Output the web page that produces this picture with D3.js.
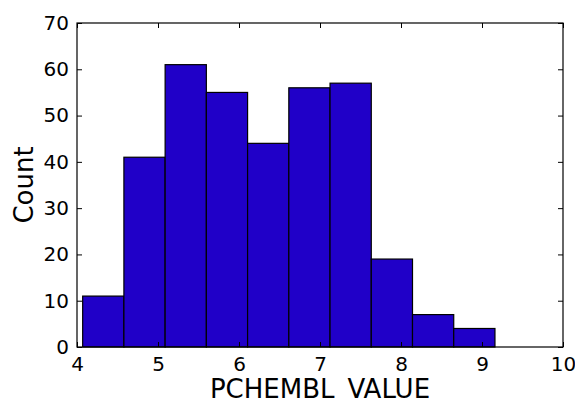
<!DOCTYPE html>
<html>
<head>
<meta charset="utf-8">
<script src="https://cdn.jsdelivr.net/npm/d3@7"></script>
<style>
  body { margin: 0; background: #fff; }
  svg { display: block; }
  text { font-family: "DejaVu Sans", sans-serif; fill: #000; }
</style>
</head>
<body>
<div id="chart"></div>
<script>
// histogram bins
const binStart = 4.07;
const binEnd = 9.16;
const counts = [11, 41, 61, 55, 44, 56, 57, 19, 7, 4];
const xTicks = [4, 5, 6, 7, 8, 9, 10];
const yTicks = [0, 10, 20, 30, 40, 50, 60, 70];

const width = 575;
const height = 403;
const margin = { left: 77, right: 12, top: 23, bottom: 56 };
const innerW = width - margin.left - margin.right;
const innerH = height - margin.top - margin.bottom;

const svg = d3.select('#chart')
    .append('svg')
    .attr('width', width)
    .attr('height', height);

const g = svg.append('g')
    .attr('transform', `translate(${margin.left},${margin.top})`);

const x = d3.scaleLinear().domain([4, 10]).range([0, innerW]);
const y = d3.scaleLinear().domain([0, 70]).range([innerH, 0]);

const binW = (binEnd - binStart) / counts.length;
const bins = counts.map((c, i) => ({ x0: binStart + i * binW, x1: binStart + (i + 1) * binW, count: c }));

g.selectAll('.bar')
    .data(bins)
    .enter()
    .append('rect')
    .attr('class', 'bar')
    .attr('x', d => x(d.x0))
    .attr('y', d => y(d.count))
    .attr('width', d => x(d.x1) - x(d.x0))
    .attr('height', d => y(0) - y(d.count))
    .attr('fill', '#2000c8')
    .attr('stroke', '#000')
    .attr('stroke-width', 1.2);

// frame
g.append('rect')
    .attr('x', 0).attr('y', 0)
    .attr('width', innerW).attr('height', innerH)
    .attr('fill', 'none')
    .attr('stroke', '#000')
    .attr('stroke-width', 1.2);

// inward ticks on all four sides, labels on left and bottom
const tickLen = 5;
const axBottom = d3.axisBottom(x).tickValues(xTicks).tickSize(-tickLen).tickPadding(10).tickFormat(d3.format('d'));
const axTop = d3.axisTop(x).tickValues(xTicks).tickSize(-tickLen).tickFormat('');
const axLeft = d3.axisLeft(y).tickValues(yTicks).tickSize(-tickLen).tickPadding(8).tickFormat(d3.format('d'));
const axRight = d3.axisRight(y).tickValues(yTicks).tickSize(-tickLen).tickFormat('');

g.append('g').attr('transform', `translate(0,${innerH})`).call(axBottom);
g.append('g').call(axTop);
g.append('g').call(axLeft);
g.append('g').attr('transform', `translate(${innerW},0)`).call(axRight);

g.selectAll('.domain').remove();
g.selectAll('.tick line').attr('stroke', '#000').attr('stroke-width', 1);
g.selectAll('.tick text')
    .style('font-family', '"DejaVu Sans", sans-serif')
    .style('font-size', '20px')
    .attr('fill', '#000');

// underscore falls off the bottom edge in the original, so it is left unpainted
const xLabel = svg.append('text')
    .attr('x', margin.left + innerW / 2)
    .attr('y', 398)
    .attr('text-anchor', 'middle')
    .style('font-size', '26px');
xLabel.append('tspan').text('PCHEMBL');
xLabel.append('tspan').attr('fill-opacity', 0).text('_');
xLabel.append('tspan').text('VALUE');

svg.append('text')
    .attr('transform', `translate(33,${margin.top + innerH / 2}) rotate(-90)`)
    .attr('text-anchor', 'middle')
    .style('font-size', '26px')
    .text('Count');
</script>
</body>
</html>
